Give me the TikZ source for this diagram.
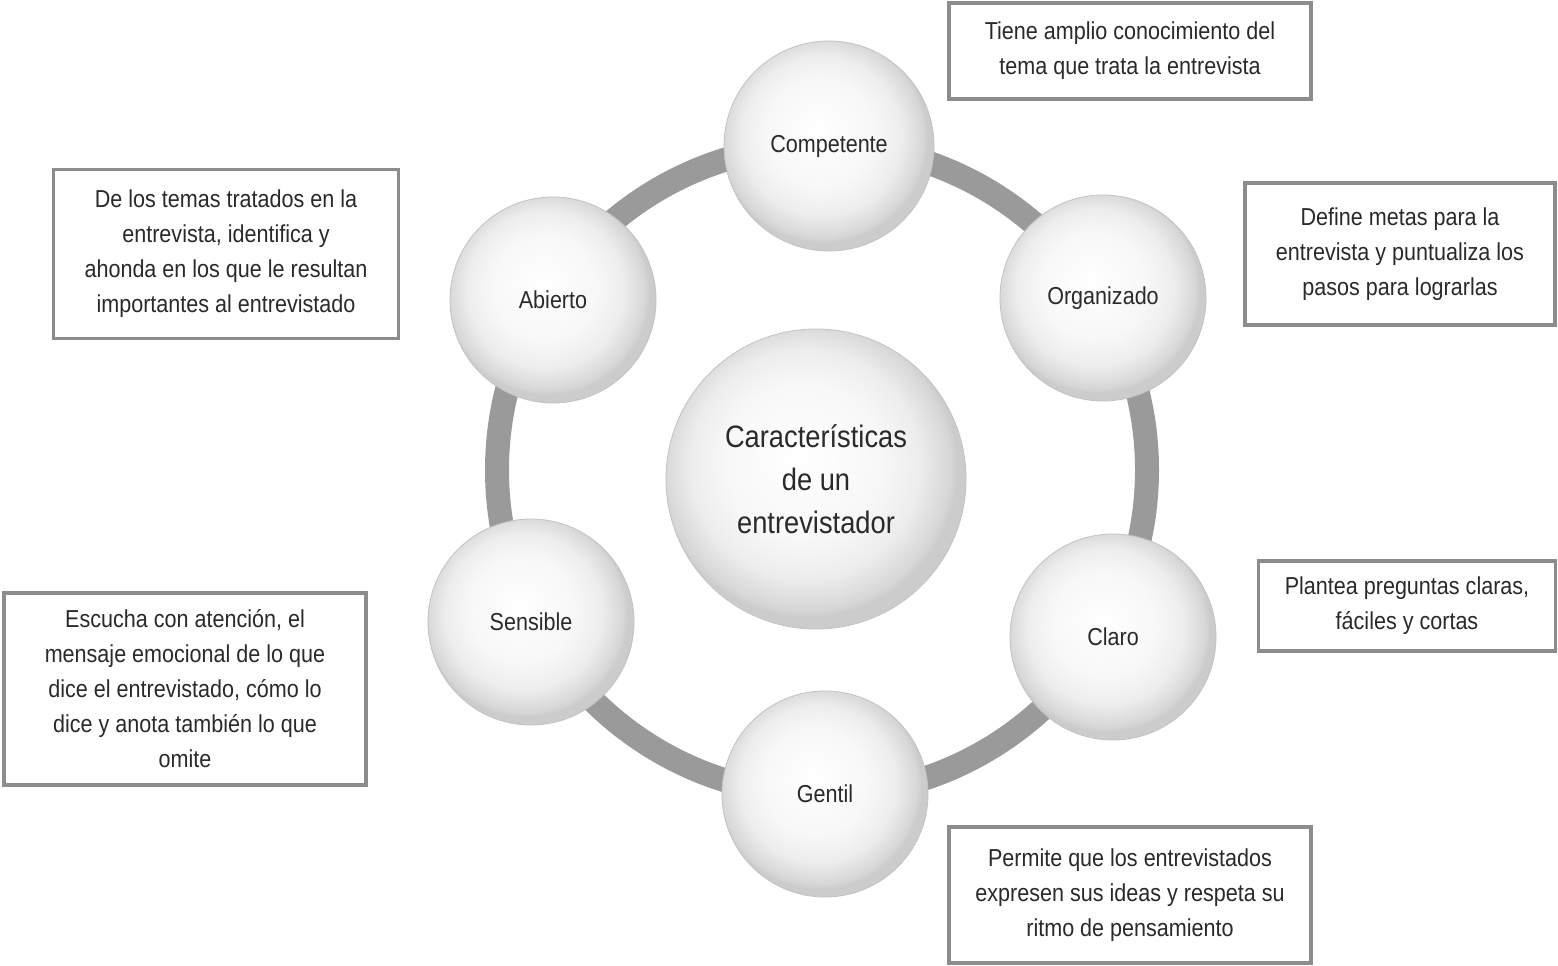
\documentclass[tikz,border=0pt]{standalone}
\usepackage{fontspec}
\setmainfont{Liberation Sans}[FakeStretch=0.88]
\usetikzlibrary{positioning}
\definecolor{Ink}{HTML}{2A2A2A}
\definecolor{Ring}{HTML}{9A9A9B}
\definecolor{Frame}{HTML}{8C8C8D}
\definecolor{Rim}{HTML}{C2C2C4}
\pgfdeclareradialshading{disc}{\pgfpoint{-3bp}{4bp}}{%
  color(0bp)=(white); color(13bp)=(white!97!black);
  color(19bp)=(white!93!black); color(24bp)=(white!84!black);
  color(25bp)=(white!80!black); color(50bp)=(white!80!black)}
\tikzset{
  trait/.style={circle,shading=disc,draw=Rim,line width=0.8pt,align=center,
    minimum size=206pt,inner sep=0pt,font=\fontsize{24.5}{30}\selectfont,text=Ink},
  hub/.style={trait,minimum size=300pt,font=\fontsize{31}{43}\selectfont},
  note/.style={draw=Frame,line width=3.5pt,fill=white,align=center,
    inner sep=0pt,font=\fontsize{24.5}{35}\selectfont,text=Ink}
}
\begin{document}
\begin{tikzpicture}[x=1pt,y=-1pt]
  \useasboundingbox (0,0) rectangle (1558,966);
  \fill[white] (0,0) rectangle (1558,966);
  % ring behind the discs
  \draw[Ring,line width=24pt] (822,470) circle[radius=325];
  \node[hub] (center) at (816,479) {Características\\de un\\entrevistador};
  \node[trait,minimum size=210pt] (comp) at (829,146) {Competente};
  \node[trait] (org) at (1103,298) {Organizado};
  \node[trait] (claro) at (1113,637) {Claro};
  \node[trait] (gentil) at (825,794) {Gentil};
  \node[trait] (sens) at (531,622) {Sensible};
  \node[trait] (abierto) at (553,300) {Abierto};
  % descriptions
  \node[note,minimum width=362pt,minimum height=96pt] (tiene) at (1130,51)
    {Tiene amplio conocimiento del\\tema que trata la entrevista};
  \node[note,minimum width=310pt,minimum height=142pt] (metas) at (1400,254)
    {Define metas para la\\entrevista y puntualiza los\\pasos para lograrlas};
  \node[note,minimum width=345pt,minimum height=169pt] (temas) at (226,254)
    {De los temas tratados en la\\entrevista, identifica y\\ahonda en los que le resultan\\importantes al entrevistado};
  \node[note,minimum width=297pt,minimum height=90pt] (plantea) at (1407,606)
    {Plantea preguntas claras,\\fáciles y cortas};
  \node[note,minimum width=362pt,minimum height=192pt] (escucha) at (185,689)
    {Escucha con atención, el\\mensaje emocional de lo que\\dice el entrevistado, cómo lo\\dice y anota también lo que\\omite};
  \node[note,minimum width=362pt,minimum height=136pt] (permite) at (1130,895)
    {Permite que los entrevistados\\expresen sus ideas y respeta su\\ritmo de pensamiento};
\end{tikzpicture}
\end{document}
